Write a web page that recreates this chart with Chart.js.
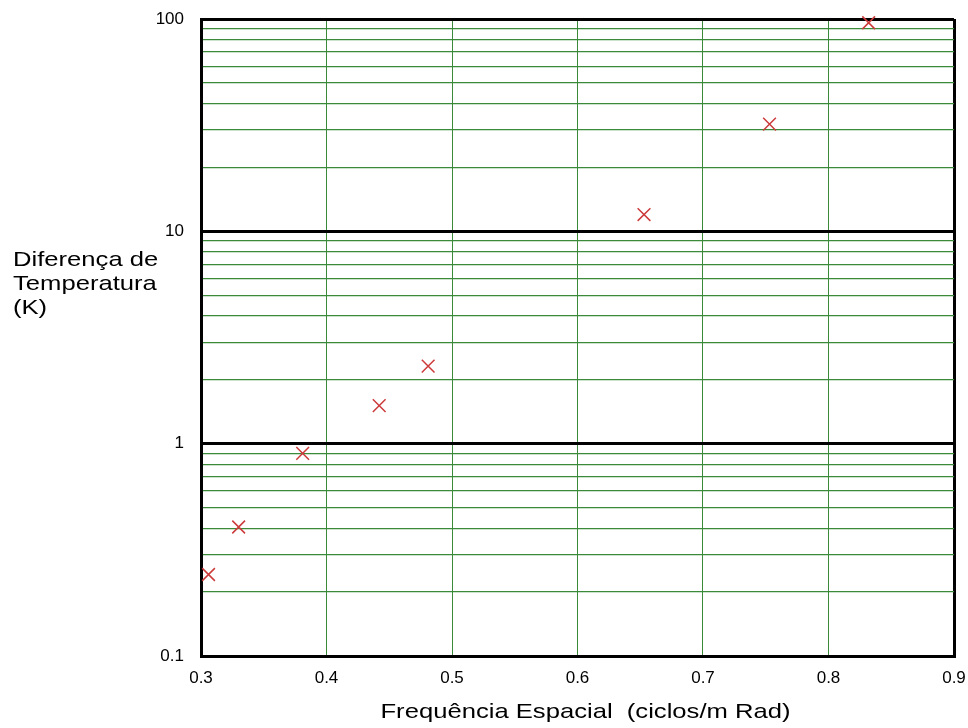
<!DOCTYPE html>
<html>
<head>
<meta charset="utf-8">
<script src="https://cdn.jsdelivr.net/npm/chart.js@4.4.1/dist/chart.umd.min.js"></script>
<style>
  html, body { margin: 0; padding: 0; background: #ffffff; }
  #wrap { width: 968px; height: 728px; }
</style>
</head>
<body>
<div id="wrap"><canvas id="c" width="968" height="728"></canvas></div>
<script>
// Measured temperature difference against spatial frequency
const freq     = [0.306, 0.330, 0.381, 0.442, 0.481, 0.653, 0.753, 0.832];
const tempDiff = [0.242, 0.405, 0.90, 1.51, 2.32, 12.0, 32.0, 96.0];

// Axis ticks / grid values
const xTicks  = [0.3, 0.4, 0.5, 0.6, 0.7, 0.8, 0.9];
const yGrid   = [0.1, 0.2, 0.3, 0.4, 0.5, 0.6, 0.7, 0.8, 0.9,
                 1, 2, 3, 4, 5, 6, 7, 8, 9,
                 10, 20, 30, 40, 50, 60, 70, 80, 90, 100];
const yLabels = ['0.1', '1', '10', '100'];

const xTitle = 'Frequência Espacial  (ciclos/m Rad)';
const yTitle = ['Diferença de', 'Temperatura', '(K)'];

const GREEN = '#3a8a3a';
const FONT = '"Liberation Sans", Arial, sans-serif';

const isDecade = v => Math.abs(Math.log10(v) - Math.round(Math.log10(v))) < 1e-9;
const isXEdge = v => Math.abs(v - xTicks[0]) < 1e-9 || Math.abs(v - xTicks[xTicks.length - 1]) < 1e-9;

// Horizontal, slightly widened axis titles
const axisTitles = {
  id: 'axisTitles',
  afterDraw(chart) {
    const { ctx, chartArea: a } = chart;
    const sx = 1.22;
    ctx.save();
    ctx.fillStyle = '#000';
    ctx.font = '21px ' + FONT;
    ctx.textBaseline = 'alphabetic';
    ctx.textAlign = 'left';

    const w = ctx.measureText(xTitle).width * sx;
    const cx = (a.left + a.right) / 2 + 8;
    ctx.save();
    ctx.translate(cx - w / 2, a.bottom + 62);
    ctx.scale(sx, 1);
    ctx.fillText(xTitle, 0, 0);
    ctx.restore();

    yTitle.forEach((line, i) => {
      ctx.save();
      ctx.translate(13, a.top + 247 + i * 24);
      ctx.scale(sx, 1);
      ctx.fillText(line, 0, 0);
      ctx.restore();
    });
    ctx.restore();
  }
};

new Chart(document.getElementById('c'), {
  type: 'scatter',
  data: {
    datasets: [{
      data: freq.map((f, i) => ({ x: f, y: tempDiff[i] })),
      pointStyle: 'crossRot',
      pointRadius: 9,
      pointHoverRadius: 9,
      borderColor: '#cc3a3a',
      backgroundColor: '#cc3a3a',
      borderWidth: 1.5,
      clip: false
    }]
  },
  options: {
    responsive: false,
    animation: false,
    events: [],
    layout: { padding: { left: 0, right: 14, top: 19, bottom: 0 } },
    plugins: { legend: { display: false }, tooltip: { enabled: false } },
    scales: {
      x: {
        type: 'linear',
        min: 0.3,
        max: 0.9,
        afterBuildTicks: s => { s.ticks = xTicks.map(v => ({ value: v })); },
        afterFit: s => { s.height = 72; s.paddingLeft = 0; s.paddingRight = 0; },
        grid: {
          drawTicks: false,
          color: c => isXEdge(c.tick.value) ? '#000' : GREEN,
          lineWidth: c => isXEdge(c.tick.value) ? 3 : 1
        },
        border: { color: '#000', width: 3 },
        ticks: {
          color: '#000',
          font: { family: FONT, size: 17 },
          padding: 12,
          autoSkip: false,
          maxRotation: 0,
          callback: v => Number(v).toFixed(1)
        }
      },
      y: {
        type: 'logarithmic',
        min: 0.1,
        max: 100,
        afterBuildTicks: s => { s.ticks = yGrid.map(v => ({ value: v, major: isDecade(v) })); },
        afterFit: s => { s.width = 201; s.paddingTop = 0; s.paddingBottom = 0; },
        grid: {
          drawTicks: false,
          color: c => isDecade(c.tick.value) ? '#000' : GREEN,
          lineWidth: c => isDecade(c.tick.value) ? 3 : 1.2
        },
        border: { color: '#000', width: 3 },
        ticks: {
          color: '#000',
          font: { family: FONT, size: 17 },
          padding: 17,
          autoSkip: false,
          callback: v => {
            const s = String(v);
            return yLabels.includes(s) ? s : '';
          }
        }
      }
    }
  },
  plugins: [axisTitles]
});
</script>
</body>
</html>
